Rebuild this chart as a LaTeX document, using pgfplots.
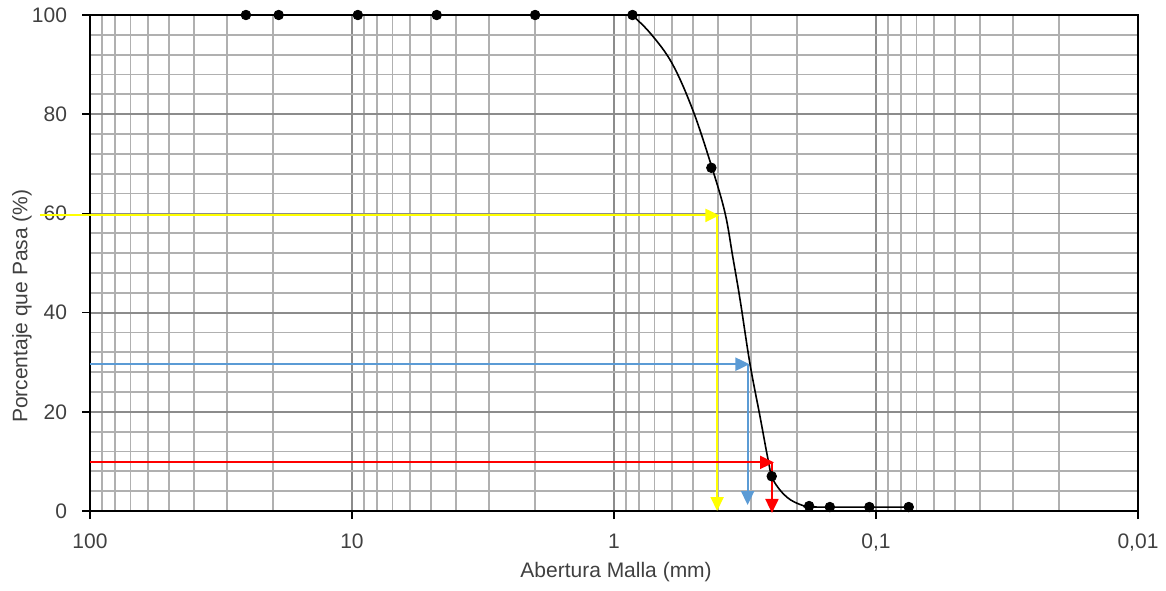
\documentclass[border=0pt]{standalone}
\usepackage{fontspec}
\setmainfont{Liberation Sans}
\usepackage{pgfplots}
\pgfplotsset{compat=1.18}
\usetikzlibrary{arrows.meta}

\definecolor{gridmaj}{HTML}{8C8C8C}
\definecolor{gridmin}{HTML}{B0B0B0}
\definecolor{arrblue}{HTML}{5B9BD5}
\definecolor{arryellow}{HTML}{FFFF00}
\definecolor{arrred}{HTML}{FF0000}
\definecolor{labgray}{HTML}{404040}

% sieve analysis: opening (mm), percent passing
\pgfplotstableread{
x      y
25.4   100
19.05  100
9.5    100
4.75   100
2.0    100
0.85   100
0.425  69.2
0.25   7.0
0.18   1.0
0.15   0.8
0.106  0.8
0.075  0.8
}\sieve

% fitted curve
\pgfplotstableread{
x      y
0.854  100
0.729  96.4
0.601  90.3
0.500  80.8
0.4225 69.2
0.377  60.1
0.352  51.2
0.330  42.5
0.303  29.8
0.277  19.0
0.258  10.3
0.247  6.3
0.219  2.8
0.190  1.1
0.170  0.8
0.0748 0.8
}\curve

\begin{document}
\begin{tikzpicture}[font=\fontsize{10.5}{12.6}\selectfont]
\begin{axis}[
    scale only axis,
    width=524pt, height=248pt,
    xmode=log, x dir=reverse,
    xmin=0.01, xmax=100,
    ymin=0, ymax=100,
    xtick={0.01,0.1,1,10,100},
    xticklabels={{0,01},{0,1},1,10,100},
    ytick={0,20,40,60,80,100},
    minor y tick num=4,
    grid=both,
    major grid style={color=gridmaj, line width=0.9pt},
    minor grid style={color=gridmin, line width=0.9pt},
    axis line style={black, line width=0.9pt},
    tick pos=left,
    tick align=outside,
    major tick length=4pt,
    minor tick length=0pt,
    tick style={black, line width=0.8pt},
    ticklabel style={text=labgray},
    yticklabel style={xshift=-4pt},
    xticklabel style={yshift=-4pt},
    /pgf/number format/assume math mode=true,
    xlabel={Abertura Malla (mm)},
    ylabel={Porcentaje que Pasa (\%)},
    xlabel style={at={(axis description cs:0.502,-0.123)}, anchor=center, text=labgray},
    ylabel style={at={(axis description cs:-0.065,0.413)}, anchor=center, text=labgray},
    clip=false,
]
\addplot[black, line width=0.8pt] coordinates {(25.4,100) (0.854,100)};
\addplot[black, line width=0.8pt, smooth, tension=0.6] table[x=x, y=y] {\curve};
\addplot[only marks, mark=*, mark size=2.4pt, black] table[x=x, y=y] {\sieve};

% D60
\addplot[arryellow, line width=1pt, -{Triangle[length=7pt, width=6.5pt]}]
    coordinates {(155,59.6) (0.396,59.6)};
\addplot[arryellow, line width=1pt, -{Triangle[length=7pt, width=6.5pt]}]
    coordinates {(0.404,59.6) (0.404,0)};
% D30
\addplot[arrblue, line width=1pt, -{Triangle[length=7pt, width=6.5pt]}]
    coordinates {(100,29.6) (0.304,29.6)};
\addplot[arrblue, line width=1pt, -{Triangle[length=7pt, width=6.5pt]}]
    coordinates {(0.309,29.6) (0.309,1.2)};
% D10
\addplot[arrred, line width=1pt, -{Triangle[length=7pt, width=6.5pt]}]
    coordinates {(100,9.8) (0.245,9.8)};
\addplot[arrred, line width=1pt, -{Triangle[length=7pt, width=6.5pt]}]
    coordinates {(0.2495,9.8) (0.2495,-0.4)};
\end{axis}
\path ([shift={(-45pt,-39.5pt)}]current axis.south west) rectangle ([shift={(14pt,7.5pt)}]current axis.north east);
\end{tikzpicture}
\end{document}
